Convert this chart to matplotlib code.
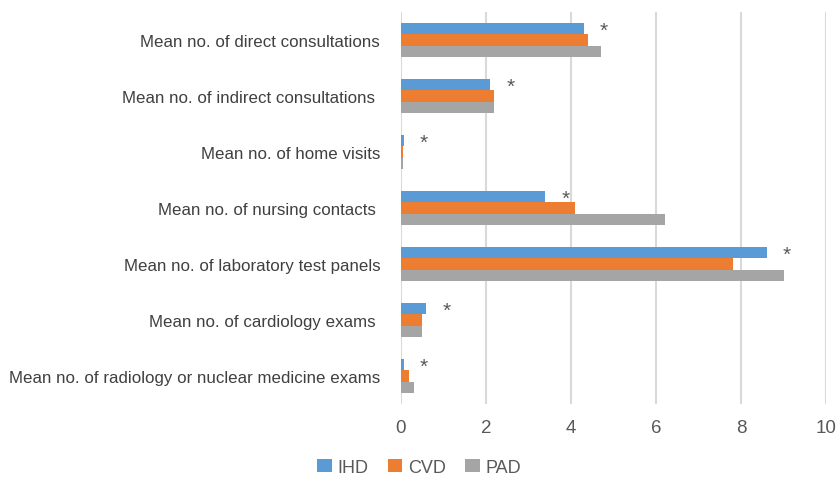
import numpy as np
import matplotlib.pyplot as plt

plt.rcParams['font.family'] = ['Liberation Sans', 'DejaVu Sans']

# data
categories = ['Mean no. of direct consultations',
              'Mean no. of indirect consultations ',
              'Mean no. of home visits',
              'Mean no. of nursing contacts ',
              'Mean no. of laboratory test panels',
              'Mean no. of cardiology exams ',
              'Mean no. of radiology or nuclear medicine exams']
ihd = [4.3, 2.1, 0.07, 3.4, 8.6, 0.6, 0.07]
cvd = [4.4, 2.2, 0.05, 4.1, 7.8, 0.5, 0.2]
pad = [4.7, 2.2, 0.05, 6.2, 9.0, 0.5, 0.3]
significant = [True] * 7

fig = plt.figure(figsize=(8.38, 4.81), dpi=100)
ax = fig.add_axes([0.4785, 0.158, 0.5072, 0.815])

y = np.arange(len(categories))
h = 0.2
ax.barh(y - h, ihd, height=h, color='#5B9BD5', label='IHD')
ax.barh(y, cvd, height=h, color='#ED7D31', label='CVD')
ax.barh(y + h, pad, height=h, color='#A5A5A5', label='PAD')

# asterisks next to the IHD bars
for i, s in enumerate(significant):
    if s:
        ax.text(ihd[i] + 0.47, y[i] - 0.9 * h, '*', ha='center', va='center',
                fontsize=15, color='#595959')

ax.set_ylim(len(categories) - 0.5, -0.5)
ax.set_xlim(0, 10)
ax.set_xticks(np.arange(0, 11, 2))
ax.set_yticks(y)
ax.set_yticklabels(categories)
ax.tick_params(axis='y', length=0, pad=15, labelsize=12.2, labelcolor='#404040')
ax.tick_params(axis='x', length=0, pad=11, labelsize=13.5, labelcolor='#595959')
ax.grid(axis='x', color='#D9D9D9', linewidth=1.5)
ax.set_axisbelow(True)
for sp in ax.spines.values():
    sp.set_visible(False)

fig.legend(loc='lower center', ncol=3, frameon=False, fontsize=13,
           bbox_to_anchor=(0.5, -0.025), handlelength=0.8, handleheight=0.8,
           handletextpad=0.3, columnspacing=1.1, labelcolor='#595959')

plt.savefig('out.png', dpi=100)
